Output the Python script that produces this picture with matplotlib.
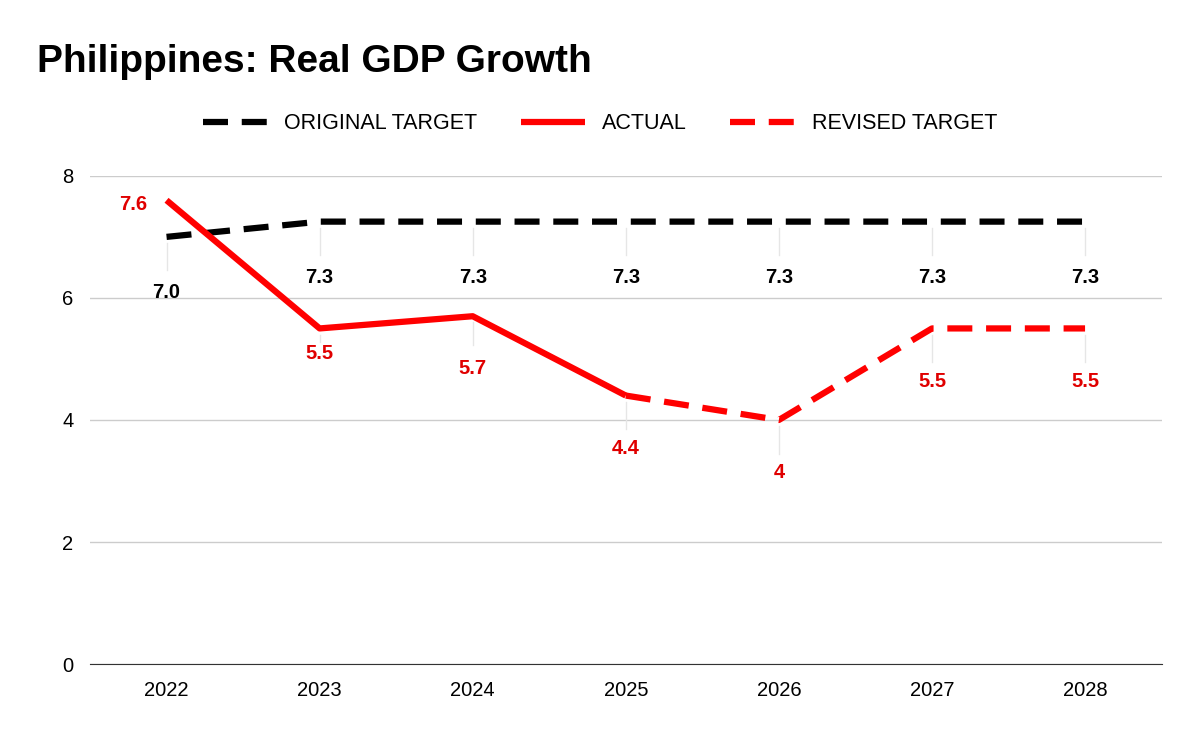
import matplotlib.pyplot as plt

years = ['2022', '2023', '2024', '2025', '2026', '2027', '2028']
original = [7.0, 7.25, 7.25, 7.25, 7.25, 7.25, 7.25]
original_labels = ['7.0', '7.3', '7.3', '7.3', '7.3', '7.3', '7.3']
actual = [7.6, 5.5, 5.7, 4.4]
actual_labels = ['7.6', '5.5', '5.7', '']
revised = [4.4, 4.0, 5.5, 5.5]
revised_labels = ['4.4', '4', '5.5', '5.5']

plt.rcParams['font.family'] = ['Liberation Sans', 'DejaVu Sans']
fig = plt.figure(figsize=(12, 7.42), dpi=100)
ax = fig.add_axes([0.075, 0.105, 0.893, 0.658])

x = list(range(len(years)))
ax.plot(x, original, color='black', lw=4.5, dashes=(4, 2.2), label='ORIGINAL TARGET', zorder=3)
ax.plot(x[:len(actual)], actual, color='#ff0000', lw=4.5, label='ACTUAL', solid_capstyle='butt', zorder=4)
ax.plot(x[3:], revised, color='#ff0000', lw=4.5, dashes=(4, 2.2), label='REVISED TARGET', zorder=4)

lab = dict(ha='center', va='center', fontsize=14.5, fontweight='bold')
for i, (v, t) in enumerate(zip(original, original_labels)):
    ax.plot([i, i], [v - 0.1, v - 0.55], color='#e6e6e6', lw=1, zorder=1)
    ax.annotate(t, (i, v), xytext=(0, -40), textcoords='offset points', color='black', **lab)
for i, (v, t) in enumerate(zip(actual, actual_labels)):
    if not t:
        continue
    if i == 0:
        ax.annotate(t, (i, v), xytext=(-24, -3), textcoords='offset points', color='#e00000', **lab)
    else:
        dy = -18 if i == 1 else -38
        ax.plot([i, i], [v - 0.1, v + dy / 44 * 0.55], color='#e6e6e6', lw=1, zorder=1)
        ax.annotate(t, (i, v), xytext=(0, dy), textcoords='offset points', color='#e00000', **lab)
for j, (v, t) in enumerate(zip(revised, revised_labels)):
    i = j + 3
    ax.plot([i, i], [v - 0.1, v - 0.55], color='#e6e6e6', lw=1, zorder=1)
    ax.annotate(t, (i, v), xytext=(0, -38), textcoords='offset points', color='#e00000', **lab)

ax.set_xlim(-0.5, len(years) - 0.5)
ax.set_ylim(0, 8)
ax.set_yticks([0, 2, 4, 6, 8])
ax.set_xticks(x)
ax.set_xticklabels(years)
ax.tick_params(axis='both', length=0, labelsize=14.5, pad=12)
ax.grid(axis='y', color='#cccccc', lw=1)
ax.set_axisbelow(True)
for s in ['top', 'right', 'left']:
    ax.spines[s].set_visible(False)
ax.spines['bottom'].set_color('#333333')

fig.text(0.031, 0.917, 'Philippines: Real GDP Growth', fontsize=28, fontweight='bold', va='center')
fig.legend(loc='center', bbox_to_anchor=(0.5, 0.833), ncol=3, frameon=False,
           fontsize=15.5, handlelength=3.0, columnspacing=2.0)

fig.savefig('out.png')
